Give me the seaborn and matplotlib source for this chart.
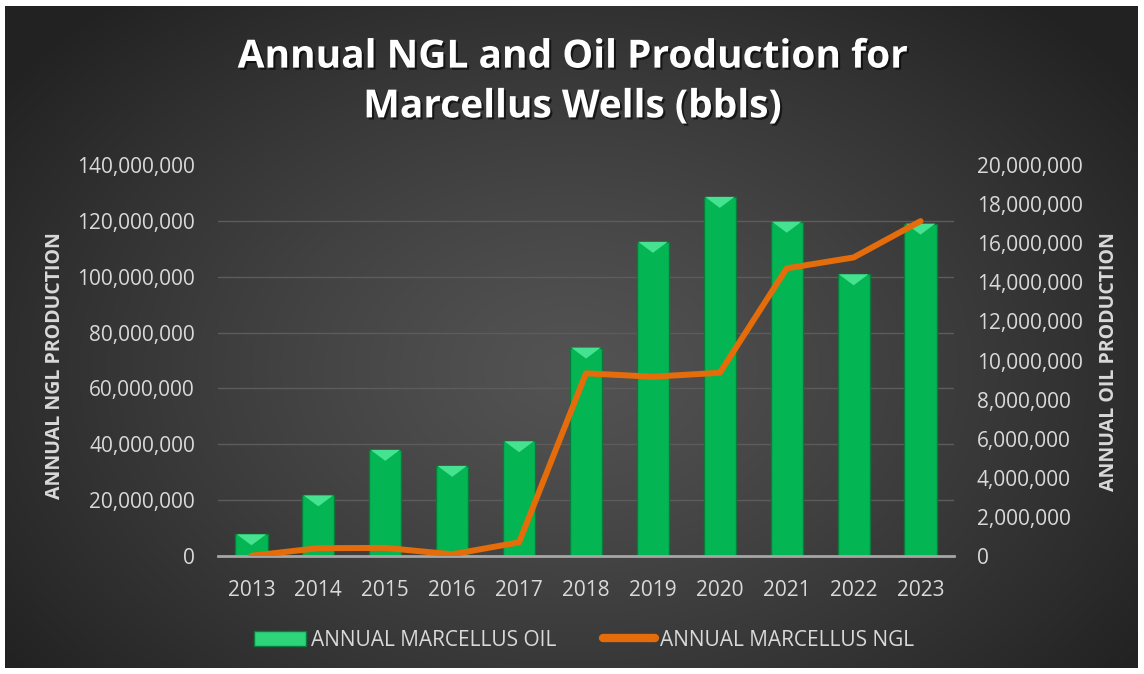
import numpy as np
import pandas as pd
import matplotlib
matplotlib.use("Agg")
import matplotlib.pyplot as plt
import seaborn as sns
from matplotlib.ticker import MultipleLocator, FuncFormatter
from matplotlib.patches import Polygon, Patch
from matplotlib.lines import Line2D
import matplotlib.patheffects as pe

# ---------------- data ----------------
years = ["2013", "2014", "2015", "2016", "2017", "2018", "2019", "2020", "2021", "2022", "2023"]
oil = [1.11e6, 3.10e6, 5.43e6, 4.61e6, 5.87e6, 10.66e6, 16.07e6, 18.37e6, 17.10e6, 14.41e6, 17.00e6]
ngl = [0.1e6, 2.8e6, 2.9e6, 0.6e6, 4.9e6, 65.4e6, 64.2e6, 65.6e6, 103.0e6, 106.9e6, 119.9e6]
title = "Annual NGL and Oil Production for\nMarcellus Wells (bbls)"
oil_label = "ANNUAL MARCELLUS OIL"
ngl_label = "ANNUAL MARCELLUS NGL"
left_axis_title = "ANNUAL NGL PRODUCTION"
right_axis_title = "ANNUAL OIL PRODUCTION"

sns.set_theme(style="dark")
plt.rcParams["font.family"] = ["Open Sans", "DejaVu Sans"]

TXT = "#D9D9D9"
GREEN = "#03B653"
ORANGE = "#E46C0A"
TICK_FS = 15

W, H = 1144, 674
fig = plt.figure(figsize=(W / 100, H / 100), dpi=100, facecolor="white")

# radial gradient background
bg = fig.add_axes([5 / W, 6 / H, (1138 - 5) / W, (668 - 6) / H])
yy, xx = np.mgrid[0:1:300j, 0:1:500j]
r = np.sqrt(((xx - 0.5) / 0.62) ** 2 + ((yy - 0.45) / 0.75) ** 2)
r = np.clip(r, 0, 1)
val = (0x53 - (0x53 - 0x22) * r ** 1.2) / 255.0
img = np.dstack([val, val, val])
bg.imshow(img, extent=[0, 1, 0, 1], aspect="auto", origin="lower")
bg.axis("off")

ax = fig.add_axes([218 / W, 1 - 556 / H, (954 - 218) / W, (556 - 165) / H])
ax.patch.set_alpha(0)
df = pd.DataFrame({"year": years, "oil": oil, "ngl": ngl})

sns.barplot(data=df, x="year", y="oil", ax=ax, color=GREEN, width=0.48,
            saturation=1, edgecolor="#0B7A3A", linewidth=1.0, zorder=3)
ax.set_ylim(0, 20e6)
ax.set_xlim(-0.5, len(years) - 0.5)

# bevel highlight on bar tops
dh = 20e6 * 11 / 391
for p in list(ax.patches):
    x0, w, h = p.get_x(), p.get_width(), p.get_height()
    ax.add_patch(Polygon([(x0 + w / 24, h), (x0 + w - w / 24, h), (x0 + w / 2, h - dh)],
                         closed=True, facecolor="#45E38F", edgecolor="none", zorder=4))

fmt = FuncFormatter(lambda v, p: f"{v:,.0f}")

ax2 = ax.twinx()
sns.lineplot(x=df.index, y=df["ngl"], ax=ax2, color=ORANGE, linewidth=4.3,
             solid_capstyle="round", solid_joinstyle="round")

# primary (bars) -> right axis (oil)
ax.yaxis.tick_right()
ax.yaxis.set_label_position("right")
ax.yaxis.set_major_locator(MultipleLocator(2e6))
ax.yaxis.set_major_formatter(fmt)
ax.yaxis.set_minor_locator(MultipleLocator(20e6 / 7))
ax.set_axisbelow(True)
ax.grid(False)
ax.grid(which="minor", axis="y", color="#5C5C5C", linewidth=1.0)
ax.tick_params(which="both", length=0)
ax.tick_params(axis="y", colors=TXT, labelsize=TICK_FS, pad=16.5, labelright=True, labelleft=False)
ax.tick_params(axis="x", colors=TXT, labelsize=TICK_FS, pad=17)
ax.set_xlabel("")
ax.set_ylabel(right_axis_title, color=TXT, fontsize=14, fontweight="bold")
ax.yaxis.set_label_coords(1.197, 0.497)
for s in ["left", "right", "top"]:
    ax.spines[s].set_visible(False)
ax.spines["bottom"].set_color("#A6A6A6")
ax.spines["bottom"].set_linewidth(2)
ax.spines["bottom"].set_zorder(5)

# twin (line) -> left axis (NGL)
ax2.set_ylim(0, 140e6)
ax2.yaxis.tick_left()
ax2.yaxis.set_label_position("left")
ax2.yaxis.set_major_locator(MultipleLocator(20e6))
ax2.yaxis.set_major_formatter(fmt)
ax2.grid(False)
ax2.tick_params(which="both", length=0)
ax2.tick_params(axis="y", colors=TXT, labelsize=TICK_FS, pad=16.5, labelleft=True, labelright=False)
ax2.set_ylabel(left_axis_title, color=TXT, fontsize=14, fontweight="bold")
ax2.yaxis.set_label_coords(-0.208, 0.488)
for s in ax2.spines.values():
    s.set_visible(False)

fig.text(0.5, 1 - 82 / H, title, ha="center", va="center", color="white",
         fontsize=28, fontweight="bold", linespacing=1.36,
         path_effects=[pe.withSimplePatchShadow(offset=(1.5, -1.5), shadow_rgbFace="black", alpha=0.6)])

handles = [Patch(facecolor="#2ED47A", edgecolor="#0B7A3A", label=oil_label),
           Line2D([0], [0], color=ORANGE, linewidth=6, solid_capstyle="round", label=ngl_label)]
leg = fig.legend(handles=handles, loc="center", bbox_to_anchor=(584 / W, 1 - 640 / H), ncol=2,
                 frameon=False, fontsize=15, handlelength=2.5, handleheight=0.72,
                 handletextpad=0.25, columnspacing=2.2)
for t in leg.get_texts():
    t.set_color(TXT)

fig.savefig("out.png", dpi=100, facecolor="white")
